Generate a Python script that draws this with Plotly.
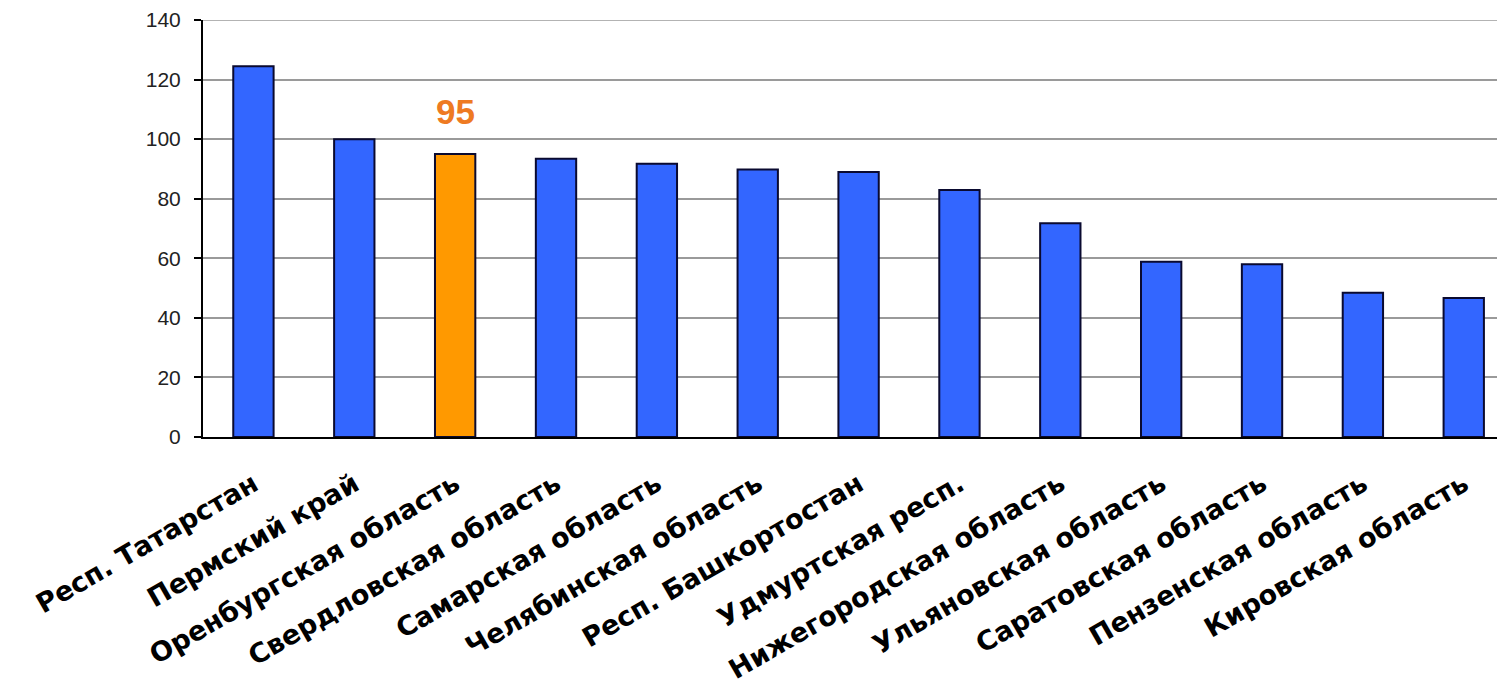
import plotly.graph_objects as go

regions = [
    "Респ. Татарстан",
    "Пермский край",
    "Оренбургская область",
    "Свердловская область",
    "Самарская область",
    "Челябинская область",
    "Респ. Башкортостан",
    "Удмуртская респ.",
    "Нижегородская область",
    "Ульяновская область",
    "Саратовская область",
    "Пензенская область",
    "Кировская область",
]
values = [124.5, 100, 95, 93.4, 91.7, 89.8, 89.0, 82.9, 71.8, 58.8, 58.0, 48.4, 46.7]
highlight = "Оренбургская область"
y_ticks = [0, 20, 40, 60, 80, 100, 120, 140]

BLUE = "#3366FF"
ORANGE = "#FF9900"
colors = [ORANGE if r == highlight else BLUE for r in regions]

fig = go.Figure()
fig.add_trace(go.Bar(
    x=regions,
    y=values,
    width=0.40,
    marker=dict(color=colors, line=dict(color="#0a0a30", width=2)),
    hoverinfo="x+y",
))

hi_val = values[regions.index(highlight)]
fig.add_annotation(
    x=highlight, y=hi_val, text=f"<b>{hi_val:g}</b>",
    showarrow=False, yanchor="bottom", yshift=21,
    font=dict(family="Liberation Sans, Arial", size=35, color="#EE7A22"),
)

# top gridline (Plotly omits the gridline lying on the plot edge)
fig.add_shape(type="line", xref="paper", yref="y", x0=0, x1=1,
              y0=y_ticks[-1], y1=y_ticks[-1],
              line=dict(color="#9a9a9a", width=1.5), layer="below")

fig.update_layout(
    width=1505, height=690,
    margin=dict(l=195, r=8, t=12, b=261, autoexpand=False),
    paper_bgcolor="white", plot_bgcolor="white",
    showlegend=False,
    bargap=0.6,
)
fig.update_xaxes(
    type="category",
    range=[-0.5, 12.409],
    automargin=False,
    showline=True, linecolor="black", linewidth=2,
    ticks="", showgrid=False,
    tickangle=-30,
    ticklabelstandoff=19,
    ticklabeloverflow="allow",
    tickfont=dict(family="DejaVu Sans", size=27, color="black", weight="bold"),
)
fig.update_yaxes(
    range=[0, 140],
    tickvals=y_ticks,
    automargin=False,
    showline=True, linecolor="black", linewidth=2,
    ticks="outside", ticklen=7, tickwidth=1.5, tickcolor="black",
    ticklabelstandoff=9,
    ticklabeloverflow="allow",
    showgrid=True, gridcolor="#9a9a9a", gridwidth=1.5,
    zeroline=False,
    tickfont=dict(family="Liberation Sans, Arial", size=21, color="#222"),
)

fig.write_html("out.html")
